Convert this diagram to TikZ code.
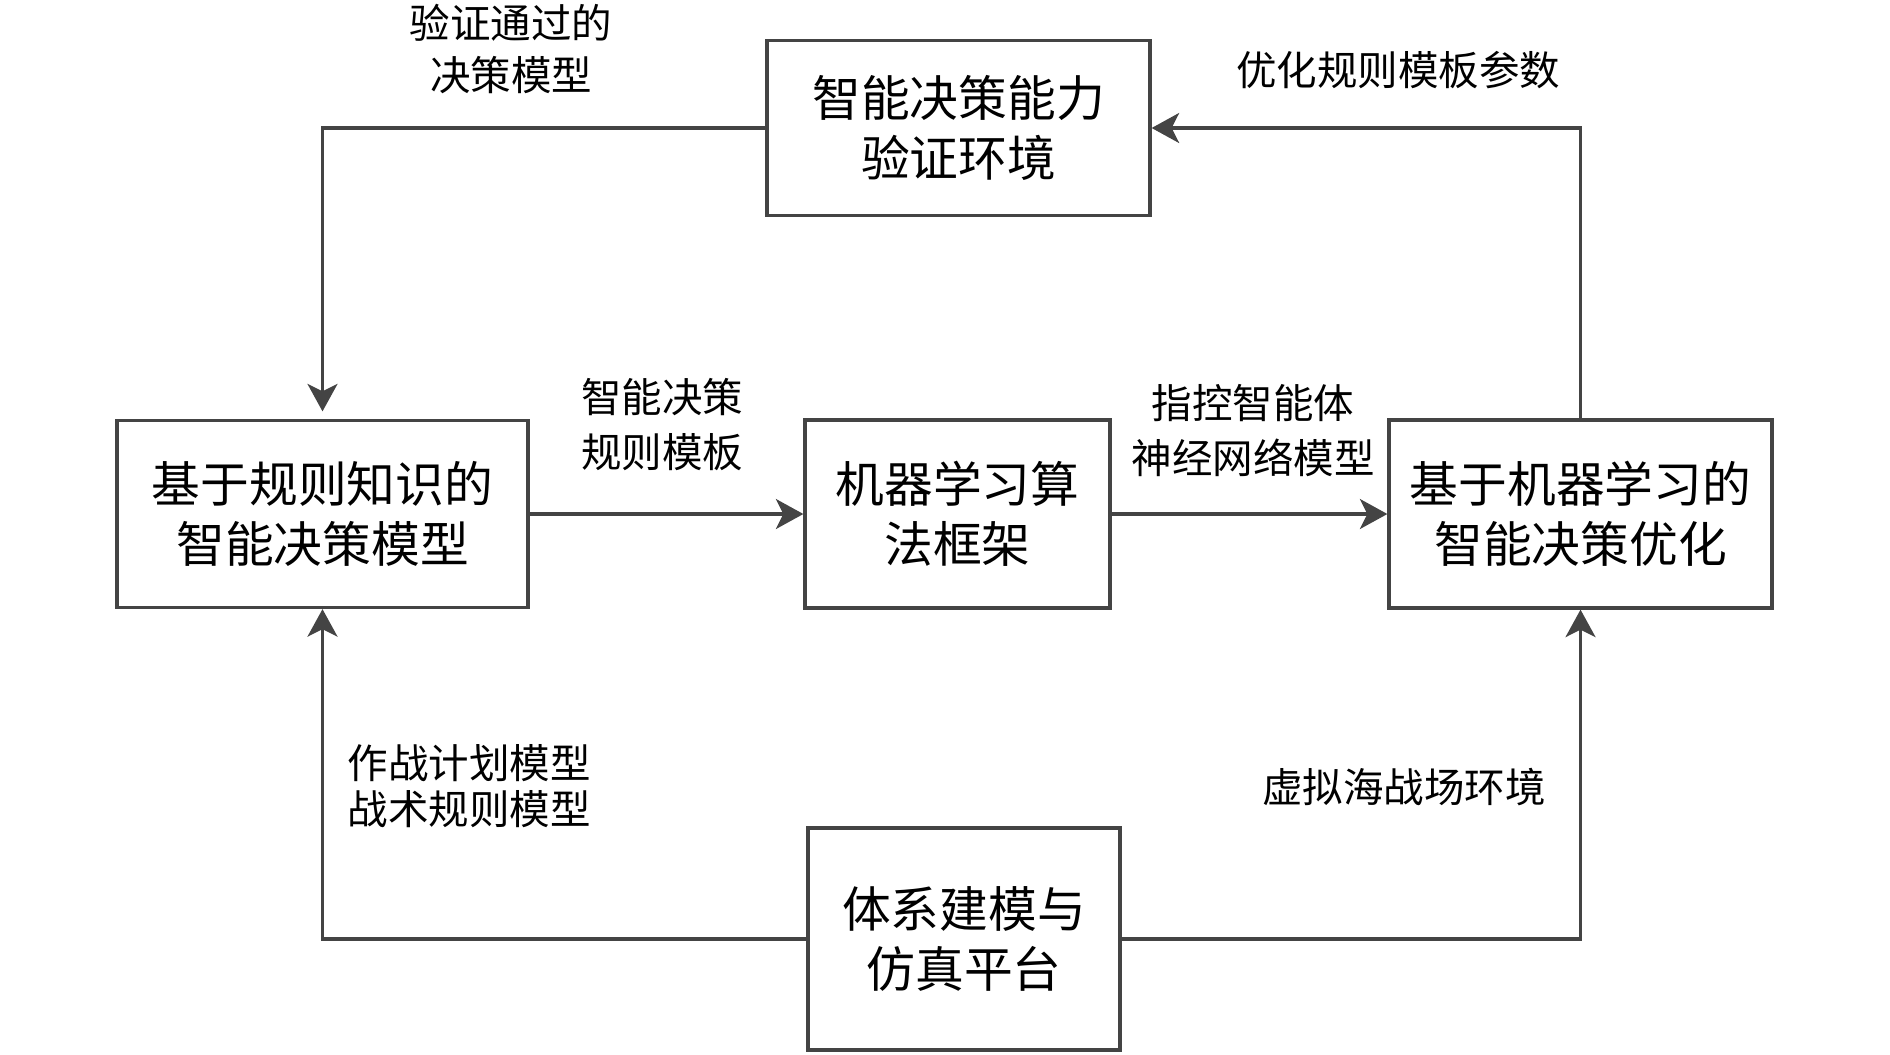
\documentclass[tikz,border=0pt]{standalone}
\usepackage{fontspec}
\setmainfont{Noto Sans CJK SC}
\usetikzlibrary{arrows.meta}
\definecolor{ln}{HTML}{444444}
\begin{document}
\begin{tikzpicture}[x=0.4pt,y=-0.4pt,
 box/.style={draw=ln,line width=1.3pt,fill=white,align=center,font=\fontsize{19.5pt}{24pt}\selectfont,inner sep=0pt},
 lbl/.style={align=center,font=\fontsize{16.2pt}{22pt}\selectfont,inner sep=0pt},
 conn/.style={draw=ln,line width=1.3pt},
 arr/.style={conn,-{Stealth[length=11pt,width=12pt,inset=3pt]}}]
\useasboundingbox (0,0) rectangle (1890,1054);
\node[box,minimum width=153.2pt,minimum height=70pt] (verify) at (958.5,128) {智能决策能力\\验证环境};
\node[box,minimum width=164.4pt,minimum height=74.8pt] (rule) at (322.5,514) {基于规则知识的\\智能决策模型};
\node[box,minimum width=122pt,minimum height=75.2pt] (ml) at (957.5,514) {机器学习算\\法框架};
\node[box,minimum width=153.2pt,minimum height=75.2pt] (opt) at (1580.5,514) {基于机器学习的\\智能决策优化};
\node[box,minimum width=124.8pt,minimum height=88.8pt] (sim) at (964,939) {体系建模与\\仿真平台};

\node[lbl,font=\fontsize{16.2pt}{21pt}\selectfont] (l1) at (511,49) {验证通过的\\决策模型};
\node[lbl] (l2) at (1398,70) {优化规则模板参数};
\node[lbl] (l3) at (662,425) {智能决策\\规则模板};
\node[lbl] (l4) at (1253,431) {指控智能体\\神经网络模型};
\node[lbl,align=left,font=\fontsize{16.2pt}{18.4pt}\selectfont] (l5) at (469,786) {作战计划模型\\战术规则模型};
\node[lbl] (l6) at (1404,787) {虚拟海战场环境};

\draw[arr,shorten >=3pt] (verify.west) -| (rule.north);
\draw[arr] (opt.north) |- (verify.east);
\draw[arr] (rule.east) -- (ml.west);
\draw[arr] (ml.east) -- (opt.west);
\draw[arr] (sim.west) -| (rule.south);
\draw[arr] (sim.east) -| (opt.south);
\end{tikzpicture}
\end{document}
